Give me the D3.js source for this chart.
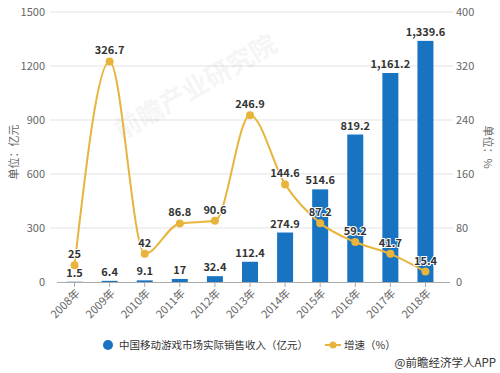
<!DOCTYPE html>
<html>
<head>
<meta charset="utf-8">
<script src="https://cdn.jsdelivr.net/npm/d3@7"></script>
<style>
  body { margin: 0; background: #fff; }
  svg { font-family: "Microsoft YaHei", "Noto Sans CJK SC", sans-serif; }
</style>
</head>
<body>
<div id="chart"></div>
<script>
const years = ["2008年", "2009年", "2010年", "2011年", "2012年", "2013年", "2014年", "2015年", "2016年", "2017年", "2018年"];
const revenue = [1.5, 6.4, 9.1, 17, 32.4, 112.4, 274.9, 514.6, 819.2, 1161.2, 1339.6];
const growth = [25, 326.7, 42, 86.8, 90.6, 246.9, 144.6, 87.2, 59.2, 41.7, 15.4];
const leftTicks = [0, 300, 600, 900, 1200, 1500];
const rightTicks = [0, 80, 160, 240, 320, 400];

const width = 500;
const height = 373;
const margin = { top: 12, right: 57, bottom: 91, left: 57 };

const barColor = "#1874c1";
const lineColor = "#e8b43c";

const svg = d3.select("#chart")
              .append("svg")
              .attr("width", width)
              .attr("height", height);

const x = d3.scaleBand()
            .domain(years)
            .range([margin.left, width - margin.right])
            .padding(0);

const yL = d3.scaleLinear()
             .domain([0, 1500])
             .range([height - margin.bottom, margin.top]);

const yR = d3.scaleLinear()
             .domain([0, 400])
             .range([height - margin.bottom, margin.top]);

// gridlines
svg.append("g")
   .selectAll("line")
   .data(leftTicks.slice(1))
   .enter()
   .append("line")
   .attr("x1", 50)
   .attr("x2", 453)
   .attr("y1", d => yL(d))
   .attr("y2", d => yL(d))
   .attr("stroke", "#e3e3e3");

// left axis labels
svg.append("g")
   .selectAll("text")
   .data(leftTicks)
   .enter()
   .append("text")
   .text(d => d)
   .attr("x", 45)
   .attr("y", d => yL(d) + 4)
   .attr("text-anchor", "end")
   .attr("font-size", 11)
   .attr("fill", "#666");

// right axis labels
svg.append("g")
   .selectAll("text")
   .data(rightTicks)
   .enter()
   .append("text")
   .text(d => d)
   .attr("x", 456)
   .attr("y", d => yR(d) + 4)
   .attr("text-anchor", "start")
   .attr("font-size", 11)
   .attr("fill", "#666");

// axis titles
svg.append("text")
   .text("单位：亿元")
   .attr("transform", "translate(18,152) rotate(-90)")
   .attr("text-anchor", "middle")
   .attr("font-size", 11)
   .attr("fill", "#666");

svg.append("text")
   .text("单位：%")
   .attr("transform", "translate(484,147) rotate(90)")
   .attr("text-anchor", "middle")
   .attr("font-size", 11)
   .attr("fill", "#666");

// watermark
svg.append("text")
   .text("前瞻产业研究院")
   .attr("transform", "translate(200,95) rotate(-30)")
   .attr("text-anchor", "middle")
   .attr("font-size", 26)
   .attr("font-weight", "bold")
   .attr("fill", "#000")
   .attr("opacity", 0.035);

// bars
const bw = 16;
svg.append("g")
   .selectAll("rect")
   .data(revenue)
   .enter()
   .append("rect")
   .attr("x", (d, i) => x(years[i]) + x.bandwidth() / 2 - bw / 2)
   .attr("y", d => yL(d))
   .attr("width", bw)
   .attr("height", d => yL(0) - yL(d))
   .attr("fill", barColor);

// baseline + ticks
svg.append("line")
   .attr("x1", 57)
   .attr("x2", 450)
   .attr("y1", yL(0) + 0.5)
   .attr("y2", yL(0) + 0.5)
   .attr("stroke", "#aaa");

svg.append("g")
   .selectAll("line")
   .data(years)
   .enter()
   .append("line")
   .attr("x1", d => x(d) + x.bandwidth() / 2)
   .attr("x2", d => x(d) + x.bandwidth() / 2)
   .attr("y1", yL(0))
   .attr("y2", yL(0) + 5)
   .attr("stroke", "#aaa");

// x labels
svg.append("g")
   .selectAll("text")
   .data(years)
   .enter()
   .append("text")
   .text(d => d)
   .attr("transform", d => `translate(${x(d) + x.bandwidth() / 2 + 6},${yL(0) + 12}) rotate(-45)`)
   .attr("text-anchor", "end")
   .attr("font-size", 11)
   .attr("fill", "#666");

// bar labels
svg.append("g")
   .selectAll("text")
   .data(revenue)
   .enter()
   .append("text")
   .text(d => d3.format(",")(d))
   .attr("x", (d, i) => x(years[i]) + x.bandwidth() / 2)
   .attr("y", d => yL(d) - 5)
   .attr("text-anchor", "middle")
   .attr("font-size", 11)
   .attr("font-weight", "bold")
   .attr("fill", "#333");

// growth line
const line = d3.line()
               .x((d, i) => x(years[i]) + x.bandwidth() / 2)
               .y(d => yR(d))
               .curve(d3.curveMonotoneX);

svg.append("path")
   .datum(growth)
   .attr("d", line)
   .attr("fill", "none")
   .attr("stroke", lineColor)
   .attr("stroke-width", 2);

svg.append("g")
   .selectAll("circle")
   .data(growth)
   .enter()
   .append("circle")
   .attr("cx", (d, i) => x(years[i]) + x.bandwidth() / 2)
   .attr("cy", d => yR(d))
   .attr("r", 4)
   .attr("fill", lineColor);

svg.append("g")
   .selectAll("text")
   .data(growth)
   .enter()
   .append("text")
   .text(d => d)
   .attr("x", (d, i) => x(years[i]) + x.bandwidth() / 2)
   .attr("y", d => yR(d) - 7)
   .attr("text-anchor", "middle")
   .attr("font-size", 11)
   .attr("font-weight", "bold")
   .attr("fill", "#333")
   .attr("stroke", "#fff")
   .attr("stroke-width", 2)
   .attr("paint-order", "stroke");

// legend
svg.append("circle")
   .attr("cx", 108)
   .attr("cy", 345)
   .attr("r", 5)
   .attr("fill", barColor);

svg.append("text")
   .text("中国移动游戏市场实际销售收入（亿元）")
   .attr("x", 119)
   .attr("y", 349)
   .attr("font-size", 10.5)
   .attr("fill", "#333");

svg.append("line")
   .attr("x1", 325)
   .attr("x2", 341)
   .attr("y1", 345)
   .attr("y2", 345)
   .attr("stroke", lineColor)
   .attr("stroke-width", 2);

svg.append("circle")
   .attr("cx", 333)
   .attr("cy", 345)
   .attr("r", 3.5)
   .attr("fill", lineColor);

svg.append("text")
   .text("增速（%）")
   .attr("x", 344)
   .attr("y", 349)
   .attr("font-size", 10.5)
   .attr("fill", "#333");

// source
svg.append("text")
   .text("@前瞻经济学人APP")
   .attr("x", 496)
   .attr("y", 367)
   .attr("text-anchor", "end")
   .attr("font-size", 11.5)
   .attr("fill", "#333");
</script>
</body>
</html>
